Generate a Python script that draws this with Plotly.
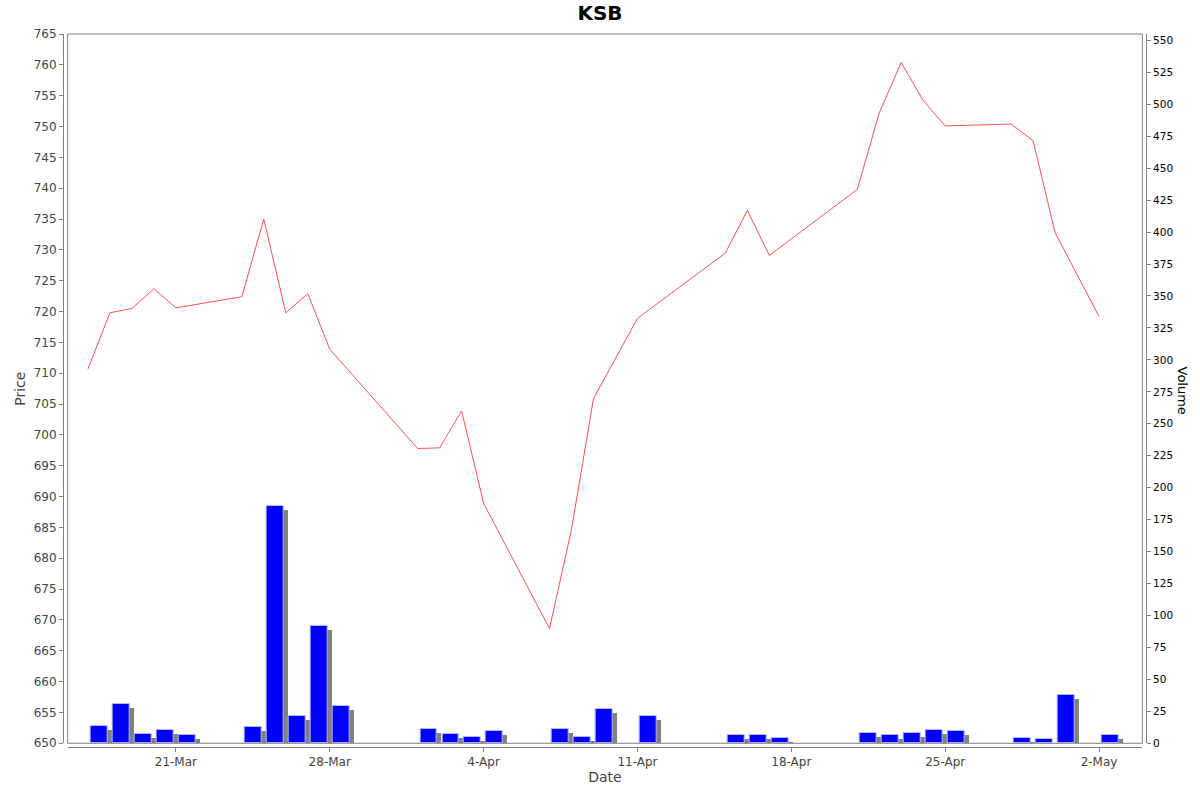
import pandas as pd
import plotly.graph_objects as go

# trading days shown on the chart
dates = ['2024-03-17', '2024-03-18', '2024-03-19', '2024-03-20', '2024-03-21',
         '2024-03-24', '2024-03-25', '2024-03-26', '2024-03-27', '2024-03-28',
         '2024-04-01', '2024-04-02', '2024-04-03', '2024-04-04', '2024-04-07',
         '2024-04-08', '2024-04-09', '2024-04-11', '2024-04-15', '2024-04-16',
         '2024-04-17', '2024-04-21', '2024-04-22', '2024-04-23', '2024-04-24',
         '2024-04-25', '2024-04-28', '2024-04-29', '2024-04-30', '2024-05-02']

price = [710.7, 719.8, 720.5, 723.7, 720.6,
         722.4, 735.0, 719.8, 722.9, 713.9,
         697.8, 697.9, 703.9, 688.9, 668.6,
         684.7, 705.9, 718.9, 729.5, 736.4,
         729.1, 739.8, 752.2, 760.4, 754.2,
         750.1, 750.4, 747.7, 732.8, 719.2]

volume = [13.6, 30.5, 7.6, 10.4, 6.5,
          12.5, 185.5, 21.6, 91.6, 29.5,
          11.0, 7.3, 5.2, 9.4, 11.0,
          5.2, 27.1, 21.4, 6.3, 6.3,
          4.2, 8.4, 6.3, 8.4, 10.3,
          9.5, 4.2, 3.2, 37.6, 6.3]

d = pd.to_datetime(dates)
day_ms = 86400000
bar_x = d + pd.Timedelta(hours=12)
shadow_x = d + pd.Timedelta(hours=16.4)
shadow_y = [max(v - 3.13, 0) for v in volume]

grey = '#808080'
fig = go.Figure()

fig.add_trace(go.Bar(x=shadow_x, y=shadow_y, yaxis='y2', width=0.77 * day_ms,
                     marker=dict(color=grey, line=dict(width=0)), showlegend=False))
fig.add_trace(go.Bar(x=bar_x, y=volume, yaxis='y2', width=0.77 * day_ms,
                     marker=dict(color='#0000ff', line=dict(width=1, color='#b4b4ff')),
                     showlegend=False))
fig.add_trace(go.Scatter(x=d, y=price, mode='lines', line=dict(color='#ff5050', width=1),
                         showlegend=False))

font = 'DejaVu Sans, Verdana, sans-serif'
fig.update_layout(
    width=1200, height=792,
    margin=dict(l=63, r=54, t=34, b=45, autoexpand=False),
    paper_bgcolor='white', plot_bgcolor='white',
    barmode='overlay', bargap=0,
    font=dict(family=font, color='#444444'),
    title=dict(text='<b>KSB</b>', x=0.5, xanchor='center', y=0.983, yanchor='middle',
               font=dict(size=20, color='black', family=font)),
    xaxis=dict(type='date', domain=[0.0043, 0.9966], anchor='free', position=0,
               range=['2024-03-16 01:50', '2024-05-03 23:15'], automargin=False,
               tick0='2024-03-21', dtick=7 * day_ms, tickformat='%-d-%b',
               showgrid=False, zeroline=False, showline=True, linecolor=grey, linewidth=1,
               ticks='outside', ticklen=4, tickcolor=grey,
               tickfont=dict(size=12, color='#444444'),
               title=dict(text='Date', font=dict(size=14, color='#444444'), standoff=2)),
    yaxis=dict(domain=[0.0052, 1], anchor='free', position=0, range=[650, 765],
               automargin=False,
               dtick=5, showgrid=False, zeroline=False, showline=True, linecolor=grey,
               ticks='outside', ticklen=4, tickcolor=grey,
               tickfont=dict(size=12, color='#444444'),
               title=dict(text='Price', font=dict(size=14, color='#444444'), standoff=3)),
    yaxis2=dict(domain=[0.0052, 1], anchor='free', position=1, overlaying='y', side='right',
                range=[0, 555], dtick=25, showgrid=False, zeroline=False, automargin=False,
                showline=True, linecolor=grey, ticks='outside', ticklen=4, tickcolor=grey,
                tickfont=dict(size=10.5, color='black')),
)

# plot frame
fig.add_shape(type='rect', xref='x domain', yref='y domain', x0=0, x1=1, y0=0, y1=1,
              line=dict(color=grey, width=1), layer='above')

# right axis title reads top to bottom
fig.add_annotation(text='Volume', xref='paper', yref='paper', x=1, xshift=36, y=0.5,
                   xanchor='center', yanchor='middle',
                   textangle=90, showarrow=False, font=dict(size=13, color='black'))

fig.write_html('out.html', config={'displayModeBar': False},
               post_script="document.body.style.margin='0';")
